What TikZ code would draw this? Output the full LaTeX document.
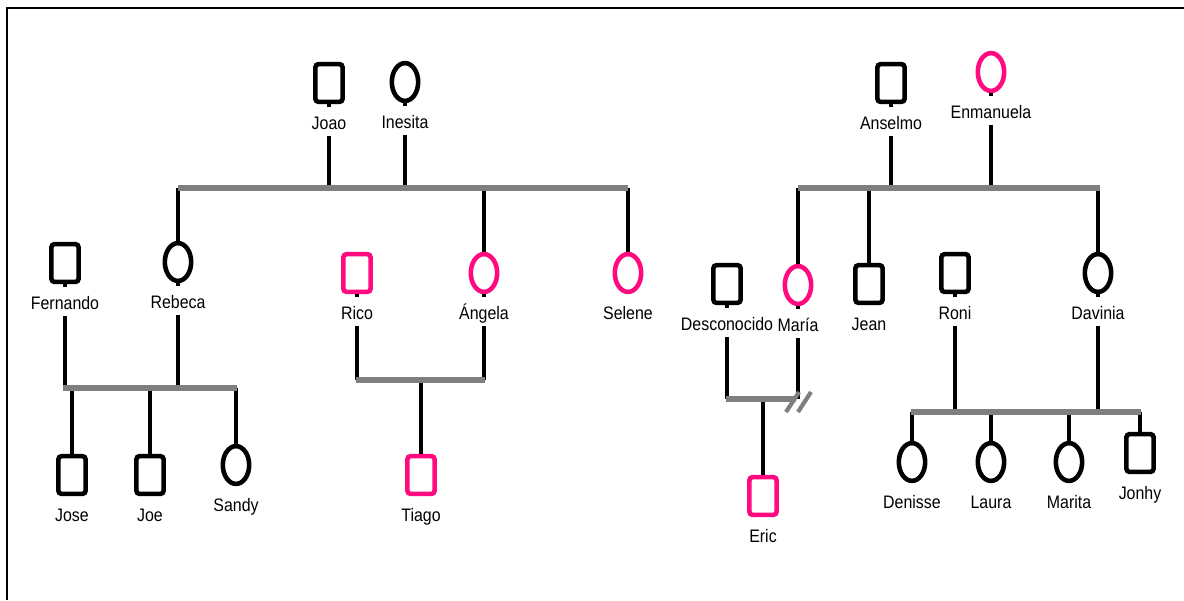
\documentclass[tikz,border=0pt]{standalone}
\usepackage{fontspec}
\newfontfamily\gfont[FakeStretch=0.88]{Liberation Sans}
\usepackage{xcolor}
\usepackage{tikz}
\usetikzlibrary{positioning,shapes.geometric}
\definecolor{rosa}{HTML}{FF0A7F}
\definecolor{barra}{HTML}{7F7F7F}

\begin{document}
\begin{tikzpicture}[x=0.02cm, y=-0.02cm,
  varon/.style={draw, line width=2.6pt, rounded corners=1.8pt,
    minimum width=15.5pt, minimum height=21.5pt, inner sep=0pt},
  mujer/.style={ellipse, draw, line width=2.6pt,
    minimum width=15pt, minimum height=21.5pt, inner sep=0pt},
  nuevo/.style={draw=rosa},
  nombre/.style={font=\gfont\fontsize{10.3}{12}\selectfont, inner sep=0pt,
    outer ysep=3.7pt, text height=7.4pt, text depth=0pt, below=3.4pt of #1},
  kin/.style={line width=2.1pt},
  union/.style={draw=barra, line width=3.8pt},
  corte/.style={draw=barra, line width=2.4pt},
]
  \useasboundingbox (0,0) rectangle (1184,600);
  \draw[line width=1.2pt] (7,600) -- (7,8) -- (1184,8);

  % familia de Joao e Inesita
  \node[varon] (joao) at (329,83) {};
  \node[mujer] (inesita) at (405,82) {};
  \node[mujer] (rebeca) at (178,262) {};
  \node[mujer, nuevo] (angela) at (484,273) {};
  \node[mujer, nuevo] (selene) at (628,273) {};
  \node[varon] (fernando) at (65,263) {};
  \node[varon, nuevo] (rico) at (357,273) {};
  \node[varon] (jose) at (72,475) {};
  \node[varon] (joe) at (150,475) {};
  \node[mujer] (sandy) at (236,465) {};
  \node[varon, nuevo] (tiago) at (421,475) {};

  % familia de Anselmo y Enmanuela
  \node[varon] (anselmo) at (891,83) {};
  \node[mujer, nuevo] (enmanuela) at (991,72) {};
  \node[mujer, nuevo] (maria) at (798,285) {};
  \node[varon] (jean) at (869,284) {};
  \node[mujer] (davinia) at (1098,273) {};
  \node[varon] (desconocido) at (727,284) {};
  \node[varon] (roni) at (955,273) {};
  \node[varon, nuevo] (eric) at (763,496) {};
  \node[mujer] (denisse) at (912,462) {};
  \node[mujer] (laura) at (991,462) {};
  \node[mujer] (marita) at (1069,462) {};
  \node[varon] (jonhy) at (1140,453) {};

  % nombres
  \node[nombre=joao] (joaoL) {Joao};
  \node[nombre=inesita] (inesitaL) {Inesita};
  \node[nombre=rebeca] (rebecaL) {Rebeca};
  \node[nombre=angela] (angelaL) {Ángela};
  \node[nombre=selene] (seleneL) {Selene};
  \node[nombre=fernando] (fernandoL) {Fernando};
  \node[nombre=rico] (ricoL) {Rico};
  \node[nombre=jose] (joseL) {Jose};
  \node[nombre=joe] (joeL) {Joe};
  \node[nombre=sandy] (sandyL) {Sandy};
  \node[nombre=tiago] (tiagoL) {Tiago};
  \node[nombre=anselmo] (anselmoL) {Anselmo};
  \node[nombre=enmanuela] (enmanuelaL) {Enmanuela};
  \node[nombre=maria] (mariaL) {María};
  \node[nombre=jean] (jeanL) {Jean};
  \node[nombre=davinia] (daviniaL) {Davinia};
  \node[nombre=desconocido] (desconocidoL) {Desconocido};
  \node[nombre=roni] (roniL) {Roni};
  \node[nombre=eric] (ericL) {Eric};
  \node[nombre=denisse] (denisseL) {Denisse};
  \node[nombre=laura] (lauraL) {Laura};
  \node[nombre=marita] (maritaL) {Marita};
  \node[nombre=jonhy] (jonhyL) {Jonhy};

  % barras de union
  \coordinate (b1w) at (178,188);  \coordinate (b1e) at (628,188);
  \coordinate (b2w) at (63,388);   \coordinate (b2e) at (237,388);
  \coordinate (b3w) at (356,380);  \coordinate (b3e) at (485,380);
  \coordinate (b4w) at (798,188);  \coordinate (b4e) at (1100,188);
  \coordinate (b5w) at (726,399);  \coordinate (b5e) at (796,399);
  \coordinate (b6w) at (911,412);  \coordinate (b6e) at (1141,412);

  \foreach \n in {joao,inesita,fernando,rebeca,rico,angela,
      anselmo,enmanuela,desconocido,maria,roni,davinia}
    \draw[kin] (\n.south) -- ++(0,3);

  % padres
  \foreach \n in {joao,inesita} \draw[kin] (\n L) -- (\n L |- b1w);
  \foreach \n in {fernando,rebeca} \draw[kin] (\n L) -- (\n L |- b2w);
  \foreach \n in {rico,angela} \draw[kin] (\n L) -- (\n L |- b3w);
  \foreach \n in {anselmo,enmanuela} \draw[kin] (\n L) -- (\n L |- b4w);
  \foreach \n in {desconocido,maria} \draw[kin] (\n L) -- (\n L |- b5w);
  \foreach \n in {roni,davinia} \draw[kin] (\n L) -- (\n L |- b6w);

  % hijos
  \foreach \n in {rebeca,angela,selene} \draw[kin] (\n |- b1w) -- (\n);
  \foreach \n in {jose,joe,sandy} \draw[kin] (\n |- b2w) -- (\n);
  \draw[kin] (tiago |- b3w) -- (tiago);
  \foreach \n in {maria,jean,davinia} \draw[kin] (\n |- b4w) -- (\n);
  \draw[kin] (eric |- b5w) -- (eric);
  \foreach \n in {denisse,laura,marita,jonhy} \draw[kin] (\n |- b6w) -- (\n);

  \foreach \b in {b1,b2,b3,b4,b5,b6} \draw[union] (\b w) -- (\b e);

  % separacion
  \draw[corte] (b5e) ++(-10,13) -- ++(13,-20);
  \draw[corte] (b5e) ++(2,13) -- ++(13,-20);
\end{tikzpicture}
\end{document}
